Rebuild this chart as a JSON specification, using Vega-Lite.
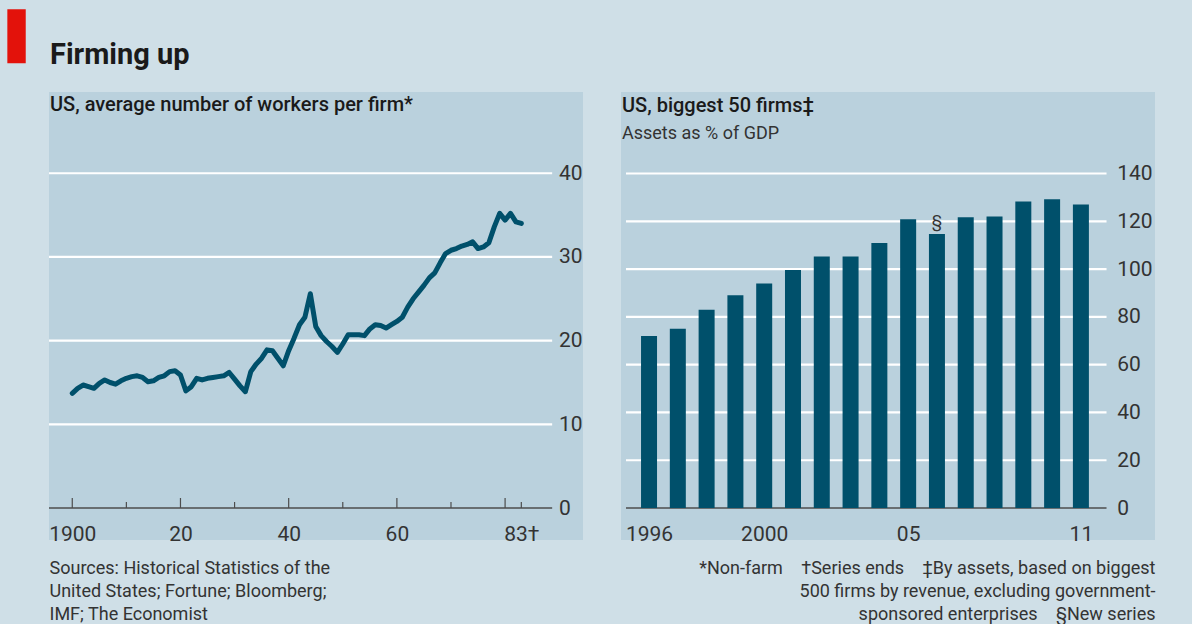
{
  "$schema": "https://vega.github.io/schema/vega-lite/v6.json",
  "background": "#cfdfe7",
  "padding": {"left": 7, "top": 9, "right": 37, "bottom": 0},
  "title": {"text": "Firming up", "anchor": "start", "frame": "group", "offset": -61, "dx": 1, "fontSize": 29, "fontWeight": "bold", "font": "Roboto", "color": "#1a1a1a"},
  "datasets": {
    "workers": [
      {"year": 1900, "workers": 13.7}, {"year": 1901, "workers": 14.3}, {"year": 1902, "workers": 14.7}, {"year": 1903, "workers": 14.5}, {"year": 1904, "workers": 14.3},
      {"year": 1905, "workers": 14.9}, {"year": 1906, "workers": 15.3}, {"year": 1907, "workers": 15.0}, {"year": 1908, "workers": 14.8}, {"year": 1909, "workers": 15.2},
      {"year": 1910, "workers": 15.5}, {"year": 1911, "workers": 15.7}, {"year": 1912, "workers": 15.8}, {"year": 1913, "workers": 15.6}, {"year": 1914, "workers": 15.1},
      {"year": 1915, "workers": 15.2}, {"year": 1916, "workers": 15.6}, {"year": 1917, "workers": 15.8}, {"year": 1918, "workers": 16.3}, {"year": 1919, "workers": 16.4},
      {"year": 1920, "workers": 15.9}, {"year": 1921, "workers": 14.0}, {"year": 1922, "workers": 14.5}, {"year": 1923, "workers": 15.5}, {"year": 1924, "workers": 15.3},
      {"year": 1925, "workers": 15.5}, {"year": 1926, "workers": 15.6}, {"year": 1927, "workers": 15.7}, {"year": 1928, "workers": 15.8}, {"year": 1929, "workers": 16.2},
      {"year": 1930, "workers": 15.4}, {"year": 1931, "workers": 14.6}, {"year": 1932, "workers": 13.9}, {"year": 1933, "workers": 16.3}, {"year": 1934, "workers": 17.2},
      {"year": 1935, "workers": 17.9}, {"year": 1936, "workers": 18.9}, {"year": 1937, "workers": 18.8}, {"year": 1938, "workers": 17.9}, {"year": 1939, "workers": 17.0},
      {"year": 1940, "workers": 18.8}, {"year": 1941, "workers": 20.3}, {"year": 1942, "workers": 21.9}, {"year": 1943, "workers": 22.8}, {"year": 1944, "workers": 25.6},
      {"year": 1945, "workers": 21.7}, {"year": 1946, "workers": 20.6}, {"year": 1947, "workers": 19.9}, {"year": 1948, "workers": 19.3}, {"year": 1949, "workers": 18.6},
      {"year": 1950, "workers": 19.6}, {"year": 1951, "workers": 20.7}, {"year": 1952, "workers": 20.7}, {"year": 1953, "workers": 20.7}, {"year": 1954, "workers": 20.6},
      {"year": 1955, "workers": 21.4}, {"year": 1956, "workers": 21.9}, {"year": 1957, "workers": 21.8}, {"year": 1958, "workers": 21.5}, {"year": 1959, "workers": 21.9},
      {"year": 1960, "workers": 22.3}, {"year": 1961, "workers": 22.8}, {"year": 1962, "workers": 24.0}, {"year": 1963, "workers": 25.0}, {"year": 1964, "workers": 25.8},
      {"year": 1965, "workers": 26.6}, {"year": 1966, "workers": 27.5}, {"year": 1967, "workers": 28.1}, {"year": 1968, "workers": 29.3}, {"year": 1969, "workers": 30.4},
      {"year": 1970, "workers": 30.8}, {"year": 1971, "workers": 31.0}, {"year": 1972, "workers": 31.3}, {"year": 1973, "workers": 31.5}, {"year": 1974, "workers": 31.8},
      {"year": 1975, "workers": 31.0}, {"year": 1976, "workers": 31.2}, {"year": 1977, "workers": 31.7}, {"year": 1978, "workers": 33.6}, {"year": 1979, "workers": 35.2},
      {"year": 1980, "workers": 34.4}, {"year": 1981, "workers": 35.2}, {"year": 1982, "workers": 34.2}, {"year": 1983, "workers": 34.0}
    ],
    "assets": [
      {"year": 1996, "assets": 72}, {"year": 1997, "assets": 75}, {"year": 1998, "assets": 83}, {"year": 1999, "assets": 89},
      {"year": 2000, "assets": 94}, {"year": 2001, "assets": 99.6}, {"year": 2002, "assets": 105.3}, {"year": 2003, "assets": 105.3},
      {"year": 2004, "assets": 110.9}, {"year": 2005, "assets": 120.8}, {"year": 2006, "assets": 114.7}, {"year": 2007, "assets": 121.7},
      {"year": 2008, "assets": 122}, {"year": 2009, "assets": 128.3}, {"year": 2010, "assets": 129.2}, {"year": 2011, "assets": 127}
    ],
    "note": [{"year": 2006, "assets": 114.7, "mark": "§"}],
    "gridL": [{"v": 10}, {"v": 20}, {"v": 30}, {"v": 40}],
    "gridR": [{"v": 20}, {"v": 40}, {"v": 60}, {"v": 80}, {"v": 100}, {"v": 120}, {"v": 140}],
    "majorTicks": [{"year": 1900}, {"year": 1920}, {"year": 1940}, {"year": 1960}, {"year": 1980}],
    "minorTicks": [{"year": 1910}, {"year": 1930}, {"year": 1950}, {"year": 1970}, {"year": 1983}]
  },
  "spacing": 38,
  "bounds": "flush",
  "hconcat": [
    {
      "width": 534,
      "height": 448,
      "title": {"text": "US, average number of workers per firm*", "anchor": "start", "frame": "group", "offset": -105.4, "dx": 1, "fontSize": 20, "fontWeight": 500, "font": "Roboto", "color": "#1a1a1a"},
      "resolve": {"axis": {"x": "independent", "y": "independent"}},
      "layer": [
        {
          "data": {"values": [{}]},
          "mark": {"type": "rect", "color": "#e3120b"},
          "encoding": {
            "x": {"datum": 1888.0, "type": "quantitative", "scale": {"domain": [1895.7, 1994.4], "nice": false, "zero": false}, "axis": null},
            "x2": {"datum": 1891.4},
            "y": {"datum": 59.59, "type": "quantitative", "scale": {"domain": [-3.82, 49.71], "nice": false, "zero": false}, "axis": null},
            "y2": {"datum": 53.14}
          }
        },
        {
          "data": {"name": "gridL"},
          "mark": {"type": "rule", "color": "#ffffff", "strokeWidth": 2.2},
          "encoding": {
            "x": {"datum": 1895.7, "type": "quantitative", "scale": {"domain": [1895.7, 1994.4], "nice": false, "zero": false}, "axis": null},
            "x2": {"datum": 1988.7},
            "y": {"field": "v", "type": "quantitative", "scale": {"domain": [-3.82, 49.71], "nice": false, "zero": false}, "axis": null}
          }
        },
        {
          "data": {"values": [{}]},
          "mark": {"type": "rule", "color": "#4d4d4d", "strokeWidth": 1.5},
          "encoding": {
            "x": {"datum": 1895.7, "type": "quantitative", "scale": {"domain": [1895.7, 1994.4], "nice": false, "zero": false}, "axis": null},
            "x2": {"datum": 1988.7},
            "y": {"datum": 0, "type": "quantitative", "scale": {"domain": [-3.82, 49.71], "nice": false, "zero": false}, "axis": null}
          }
        },
        {
          "data": {"name": "majorTicks"},
          "mark": {"type": "rule", "color": "#4d4d4d", "strokeWidth": 1.2},
          "encoding": {
            "x": {"field": "year", "type": "quantitative", "scale": {"domain": [1895.7, 1994.4], "nice": false, "zero": false}, "axis": null},
            "y": {"datum": 0, "type": "quantitative", "scale": {"domain": [-3.82, 49.71], "nice": false, "zero": false}, "axis": null},
            "y2": {"datum": 1.2}
          }
        },
        {
          "data": {"name": "minorTicks"},
          "mark": {"type": "rule", "color": "#4d4d4d", "strokeWidth": 1.2},
          "encoding": {
            "x": {"field": "year", "type": "quantitative", "scale": {"domain": [1895.7, 1994.4], "nice": false, "zero": false}, "axis": null},
            "y": {"datum": 0, "type": "quantitative", "scale": {"domain": [-3.82, 49.71], "nice": false, "zero": false}, "axis": null},
            "y2": {"datum": 0.72}
          }
        },
        {
          "data": {"name": "workers"},
          "mark": {"type": "line", "color": "#00506b", "strokeWidth": 5, "strokeJoin": "round", "strokeCap": "round"},
          "encoding": {
            "x": {
              "field": "year", "type": "quantitative",
              "scale": {"domain": [1895.7, 1994.4], "nice": false, "zero": false},
              "axis": {
                "orient": "bottom", "offset": -32, "values": [1900, 1920, 1940, 1960, 1983], "format": "d",
                "labelExpr": "datum.value == 1983 ? '83†' : (datum.value == 1900 ? '1900' : slice(datum.label, 2))",
                "labelPadding": 15.4,
                "title": ["Sources: Historical Statistics of the", "United States; Fortune; Bloomberg;", "IMF; The Economist"],
                "titleAnchor": "start", "titleAlign": "left", "titleFontSize": 18, "titleFontWeight": "normal", "titleLineHeight": 23, "titlePadding": 15.4
              }
            },
            "y": {
              "field": "workers", "type": "quantitative",
              "scale": {"domain": [-3.82, 49.71], "nice": false, "zero": false},
              "axis": {"orient": "right", "offset": -30.6, "values": [0, 10, 20, 30, 40], "labelPadding": 6, "title": null, "labelAlign": "left", "labelBaseline": "middle"}
            }
          }
        }
      ]
    },
    {
      "width": 534,
      "height": 448,
      "title": {"text": "US, biggest 50 firms‡", "subtitle": "Assets as % of GDP", "anchor": "start", "frame": "group", "offset": -51.4, "dx": 1, "fontSize": 20, "fontWeight": 500, "font": "Roboto", "color": "#1a1a1a", "subtitleFont": "Roboto", "subtitleFontSize": 18, "subtitleColor": "#333333", "subtitlePadding": 9.7},
      "resolve": {"axis": {"x": "independent", "y": "independent"}},
      "layer": [
        {
          "data": {"name": "gridR"},
          "mark": {"type": "rule", "color": "#ffffff", "strokeWidth": 2.2},
          "encoding": {
            "x": {"datum": 1995.2, "type": "quantitative", "scale": {"domain": [1995.2, 2013.4], "nice": false, "zero": false}, "axis": null},
            "x2": {"datum": 2011.89},
            "y": {"field": "v", "type": "quantitative", "scale": {"domain": [-13.38, 174.1], "nice": false, "zero": false}, "axis": null}
          }
        },
        {
          "data": {"values": [{}]},
          "mark": {"type": "rule", "color": "#4d4d4d", "strokeWidth": 1.5},
          "encoding": {
            "x": {"datum": 1995.2, "type": "quantitative", "scale": {"domain": [1995.2, 2013.4], "nice": false, "zero": false}, "axis": null},
            "x2": {"datum": 2011.89},
            "y": {"datum": 0, "type": "quantitative", "scale": {"domain": [-13.38, 174.1], "nice": false, "zero": false}, "axis": null}
          }
        },
        {
          "data": {"name": "assets"},
          "mark": {"type": "bar", "color": "#00506b", "width": 16, "orient": "vertical"},
          "encoding": {
            "x": {
              "field": "year", "type": "quantitative",
              "scale": {"domain": [1995.2, 2013.4], "nice": false, "zero": false},
              "axis": {
                "orient": "bottom", "offset": -32, "values": [1996, 2000, 2005, 2011], "format": "d",
                "labelExpr": "datum.value <= 2000 ? datum.label : slice(datum.label, 2)",
                "labelPadding": 15.4,
                "title": ["*Non-farm\u2003†Series ends\u2003‡By assets, based on biggest", "500 firms by revenue, excluding government-", "sponsored enterprises\u2003§New series"],
                "titleAnchor": "end", "titleAlign": "right", "titleFontSize": 18, "titleFontWeight": "normal", "titleLineHeight": 23, "titlePadding": 15.4
              }
            },
            "y": {
              "field": "assets", "type": "quantitative",
              "scale": {"domain": [-13.38, 174.1], "nice": false, "zero": false},
              "axis": {"orient": "right", "offset": -44.3, "values": [0, 20, 40, 60, 80, 100, 120, 140], "labelPadding": 6, "title": null, "labelAlign": "left", "labelBaseline": "middle"}
            },
            "y2": {"datum": 0}
          }
        },
        {
          "data": {"name": "note"},
          "mark": {"type": "text", "baseline": "bottom", "dy": -3, "fontSize": 17, "color": "#333333", "font": "Roboto"},
          "encoding": {
            "x": {"field": "year", "type": "quantitative", "scale": {"domain": [1995.2, 2013.4], "nice": false, "zero": false}, "axis": null},
            "y": {"field": "assets", "type": "quantitative", "scale": {"domain": [-13.38, 174.1], "nice": false, "zero": false}, "axis": null},
            "text": {"field": "mark"}
          }
        }
      ]
    }
  ],
  "config": {
    "view": {"fill": "#bad1dd", "stroke": null},
    "font": "Roboto",
    "axis": {"labelFont": "Roboto", "titleFont": "Roboto", "labelColor": "#333333", "titleColor": "#333333", "labelFontSize": 21, "grid": false, "ticks": false, "domain": false, "labelFlush": false}
  }
}
